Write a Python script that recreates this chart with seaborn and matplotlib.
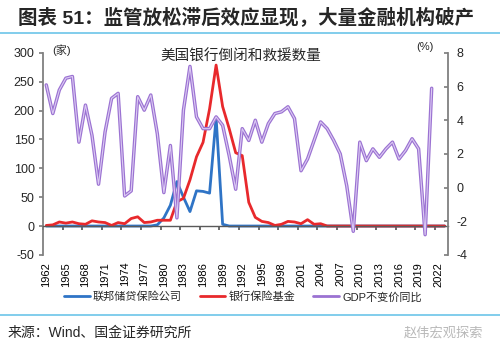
import numpy as np
import pandas as pd
import matplotlib
matplotlib.use('Agg')
import matplotlib.pyplot as plt
from matplotlib.lines import Line2D
import seaborn as sns

# Data: US failed & assisted institutions (count) and real GDP growth (%)
years = list(range(1962, 2024))
fslic = [0, 0, 0, 0, 0, 0, 0, 0, 0, 0,
         0, 0, 0, 0, 0, 0, 0, 2, 14, 36,
         77, 50, 25, 61, 60, 57, 188, 3, 0, 0,
         0, 0, 0, 0, 0, 0, 0, 0, 0, 0,
         0, 0, 0, 0, 0, 0, 0, 0, 0, 0,
         0, 0, 0, 0, 0, 0, 0, 0, 0, 0,
         0, 0]
bif = [1, 2, 7, 5, 7, 4, 3, 9, 7, 6,
       1, 6, 4, 13, 16, 6, 7, 10, 10, 10,
       42, 48, 80, 120, 145, 203, 279, 207, 169, 127,
       122, 41, 15, 8, 6, 1, 3, 8, 7, 4,
       11, 3, 4, 0, 0, 0, 0, 0, 0, 0,
       0, 0, 0, 0, 0, 0, 0, 0, 0, 0,
       0, 0]
gdp = [6.1, 4.4, 5.8, 6.5, 6.6, 2.7, 4.9, 3.1, 0.2, 3.3,
       5.3, 5.6, -0.5, -0.2, 5.4, 4.6, 5.5, 3.2, -0.3, 2.5,
       -1.8, 4.6, 7.2, 4.2, 3.5, 3.5, 4.2, 3.7, 1.9, -0.1,
       3.5, 2.8, 4.0, 2.7, 3.8, 4.4, 4.5, 4.8, 4.1, 1.0,
       1.7, 2.8, 3.9, 3.5, 2.8, 2.0, 0.1, -2.6, 2.7, 1.6,
       2.3, 1.8, 2.3, 2.7, 1.7, 2.2, 2.9, 2.3, -2.8, 5.9,
       np.nan, np.nan]

df = pd.DataFrame({'year': years, 'fslic': fslic, 'bif': bif, 'gdp': gdp})

sns.set_theme(style="white")
plt.rcParams['font.family'] = ['Liberation Sans', 'Noto Sans CJK SC']
plt.rcParams['axes.unicode_minus'] = False

blue = '#2f74c6'
red = '#e8292c'
purple = '#9b72d2'

fig = plt.figure(figsize=(5, 3.53), dpi=100)
ax = fig.add_axes([0.086, 0.278, 0.81, 0.572])

sns.lineplot(data=df, x='year', y='fslic', ax=ax, color=blue, lw=2, label='联邦储贷保险公司')
sns.lineplot(data=df, x='year', y='bif', ax=ax, color=red, lw=2, label='银行保险基金')

ax2 = ax.twinx()
sns.lineplot(data=df, x='year', y='gdp', ax=ax2, color=purple, lw=2.5, label='GDP不变价同比')
sns.lineplot(data=df, x='year', y='gdp', ax=ax2, color='#dccbf3', lw=0.8)

h1, l1 = ax.get_legend_handles_labels()
h2, l2 = ax2.get_legend_handles_labels()
for a in (ax, ax2):
    if a.get_legend() is not None:
        a.get_legend().remove()

ax.set_xlim(1961.5, 2023.5)
ax.set_ylim(-50, 300)
ax.set_yticks(range(-50, 301, 50))
ax2.set_ylim(-4, 8)
ax2.set_yticks(range(-4, 9, 2))
for a in (ax, ax2):
    a.set_xlabel('')
    a.set_ylabel('')
    a.grid(False)

# spines
ax.spines['top'].set_visible(False)
ax.spines['right'].set_visible(False)
ax.spines['left'].set_color('#808080')
ax.spines['left'].set_linewidth(1.3)
ax.spines['bottom'].set_position(('data', 0))
ax.spines['bottom'].set_color('#595959')
ax.spines['bottom'].set_linewidth(1)
for s in ('top', 'bottom', 'left'):
    ax2.spines[s].set_visible(False)
ax2.spines['right'].set_color('#808080')
ax2.spines['right'].set_linewidth(1.3)

# x ticks on the zero line, labels at the bottom
ax.set_xticks(np.arange(1961.5, 2023, 3))
ax.tick_params(axis='x', direction='out', length=3, color='#595959', labelbottom=False, bottom=True)
sec = ax.secondary_xaxis('bottom')
sec.set_xticks(years[:-1:3])
sec.set_xticklabels([str(y) for y in years[:-1:3]], rotation=90)
sec.tick_params(length=0, pad=5, labelsize=8, colors='black')
sec.spines['bottom'].set_visible(False)

ax.tick_params(axis='y', direction='out', length=3, color='#808080', labelsize=9, pad=3, left=True)
ax2.tick_params(axis='y', direction='in', length=3, color='#808080', labelsize=9, pad=6, right=True)

# texts
fig.text(18/500, 1-17/353, '图表 51：监管放松滞后效应显现，大量金融机构破产',
         fontsize=14, fontweight='bold', ha='left', va='center')
fig.add_artist(Line2D([0, 1], [1-33/353, 1-33/353], color='#6cc5e9', lw=1.2, transform=fig.transFigure))
fig.text(241/500, 1-57/353, '美国银行倒闭和救援数量', ha='center', va='center', fontsize=10.5)
fig.text(52/500, 1-50/353, '(家)', ha='left', va='center', fontsize=8)
fig.text(425/500, 1-47/353, '(%)', ha='center', va='center', fontsize=8)

leg = fig.legend(h1 + h2, l1 + l2, loc='center', bbox_to_anchor=(243/500, 1-297/353), ncol=3,
                 frameon=False, fontsize=8, handlelength=2.3, columnspacing=1.6, handletextpad=0.3)
for line in leg.get_lines():
    line.set_linewidth(2)

fig.add_artist(Line2D([0, 1], [1-315/353, 1-315/353], color='#6cc5e9', lw=1.2, transform=fig.transFigure))
fig.text(8/500, 1-333/353, '来源：Wind、国金证券研究所', fontsize=10, ha='left', va='center')
fig.text(483/500, 1-333/353, '赵伟宏观探索', fontsize=9.5, color='#b8b8b8', ha='right', va='center')

fig.savefig('out.png', dpi=100)
